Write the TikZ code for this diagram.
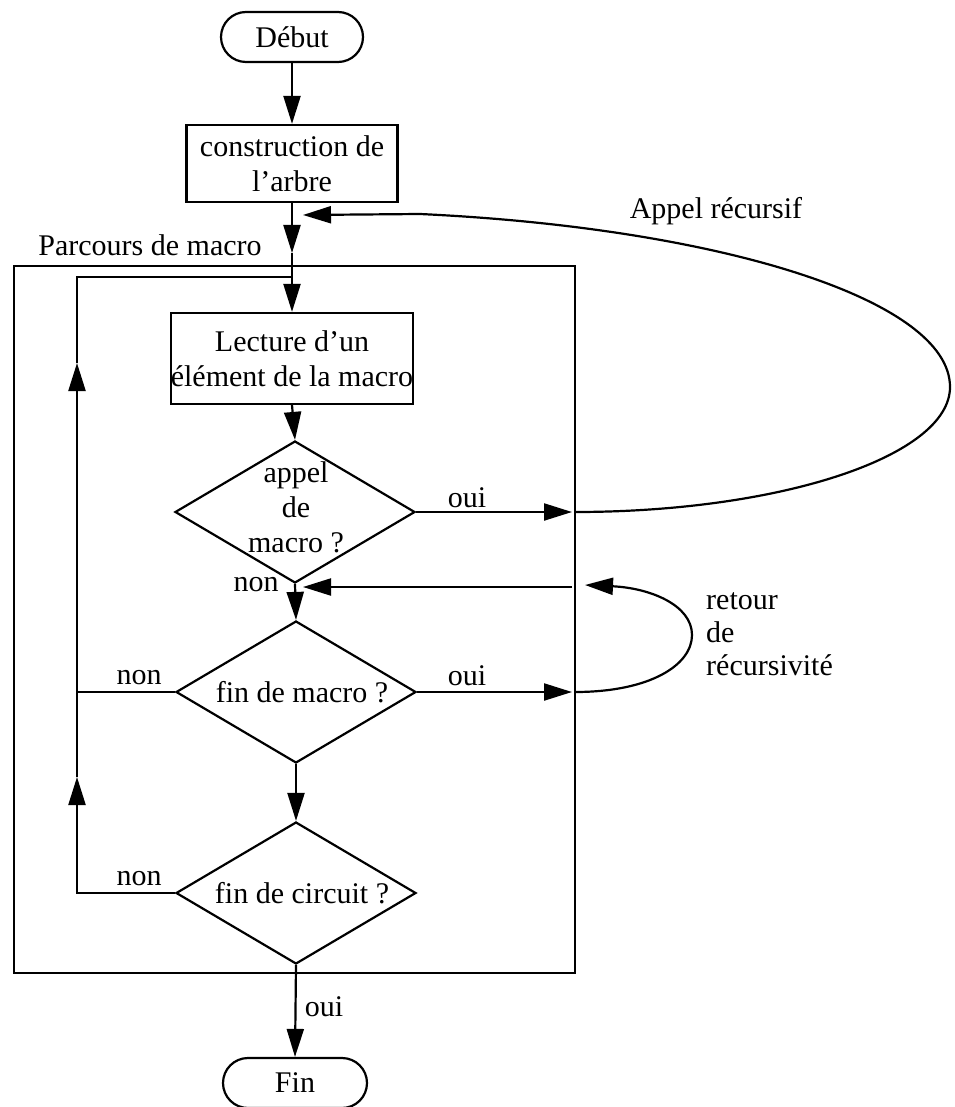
\documentclass[tikz,border=0pt]{standalone}
\usepackage{fontspec}
\setmainfont{Liberation Serif}
\usetikzlibrary{shapes.geometric,arrows.meta}
\begin{document}
\begin{tikzpicture}[x=1pt,y=-1pt,
  every node/.style={font=\fontsize{30}{35}\selectfont, inner sep=0pt},
  line/.style={line width=2.2pt},
  arr/.style={line width=2.2pt, -{Triangle[length=28pt,width=17pt]}},
  terminal/.style={draw, line width=2.2pt, rounded corners=25pt,
    minimum width=142pt, minimum height=50pt},
  process/.style={draw, line width=2.2pt, align=center},
  decision/.style={draw, diamond, line width=2.2pt, inner sep=0pt,
    minimum width=240pt, minimum height=142pt},
  frame/.style={draw, line width=2.2pt, minimum width=561pt, minimum height=707pt}
]
\useasboundingbox (0,0) rectangle (954,1107);

% outer box of the macro traversal
\node[frame] (frame) at (294.5,619.5) {};
\node (ptitle) at (150,245) {Parcours de macro};

% main column
\node[terminal] (debut) at (292,37) {Début};
\node[process, minimum width=211pt, minimum height=77pt] (constr) at (292,163.5)
  {construction de\\l'arbre};
\node[process, minimum width=241pt, minimum height=91pt] (lecture) at (292,358.5)
  {Lecture d'un\\élément de la macro};
\node[decision] (d1) at (295,512) {};
\node[align=center] (t1) at (296,507) {appel\\de\\macro ?};
\node[decision] (d2) at (296,692) {};
\node (t2) at (302,692) {fin de macro ?};
\node[decision] (d3) at (296,893) {};
\node (t3) at (302,893) {fin de circuit ?};
\node[terminal, minimum width=144pt] (fin) at (295,1083) {Fin};

% helper points
\coordinate (tipA) at (292,253);
\coordinate (j0) at (292,277);
\coordinate (o1) at (572,512);
\coordinate (c1s) at (575,512);
\coordinate (c1r) at (950,387);
\coordinate (c1e) at (420,214);
\coordinate (c1t) at (303,215);
\coordinate (r1) at (572,587);
\coordinate (r1t) at (303,587);
\coordinate (o2) at (572,692);
\coordinate (c2s) at (575,692);
\coordinate (c2r) at (692,635);
\coordinate (c2t) at (585,585);
\coordinate (l1) at (77,692);
\coordinate (upA) at (77,363);
\coordinate (upB) at (77,777);
\coordinate (lt) at (77,277);

% vertical flow
\draw[arr] (debut.south) -- (constr.north);
\draw[arr] (constr.south) -- (tipA);
\draw[line] (tipA) -- (j0);
\draw[arr] (j0) -- (lecture.north);
\draw[arr] (lecture.south) -- (d1.north);
\draw[arr] (d1.south) -- (d2.north);
\draw[arr] (d2.south) -- (d3.north);
\draw[arr] (d3.south) -- (fin.north);

% loop back to reading
\draw[arr] (d3.west) -| (upB);
\draw[line] (upB) -- (l1);
\draw[line] (d2.west) -- (l1);
\draw[arr] (l1) -- (upA);
\draw[line] (upA) -- (lt) -- (j0);

% recursive call
\draw[arr] (d1.east) -- (o1);
\draw[arr] (c1s) .. controls (781,512) and (950,456) .. (c1r)
  .. controls (950,300) and (720,228) .. (c1e) -- (c1t);

% return from recursion
\draw[arr] (d2.east) -- (o2);
\draw[line] (c2s) .. controls (650,692) and (692,665) .. (c2r);
\draw[arr] (c2r) .. controls (692,605) and (650,588) .. (c2t);
\draw[arr] (r1) -- (r1t);

% labels
\node (lcall) at (716,211) {Appel récursif};
\node[align=left, anchor=west, font=\fontsize{30}{33}\selectfont] (lret) at (706,634)
  {retour\\de\\récursivité};
\node (oui1) at (467,498) {oui};
\node (oui2) at (467,676) {oui};
\node (oui3) at (324,1007) {oui};
\node (non1) at (256,585) {non};
\node (non2) at (139,678) {non};
\node (non3) at (139,879) {non};
\end{tikzpicture}
\end{document}
